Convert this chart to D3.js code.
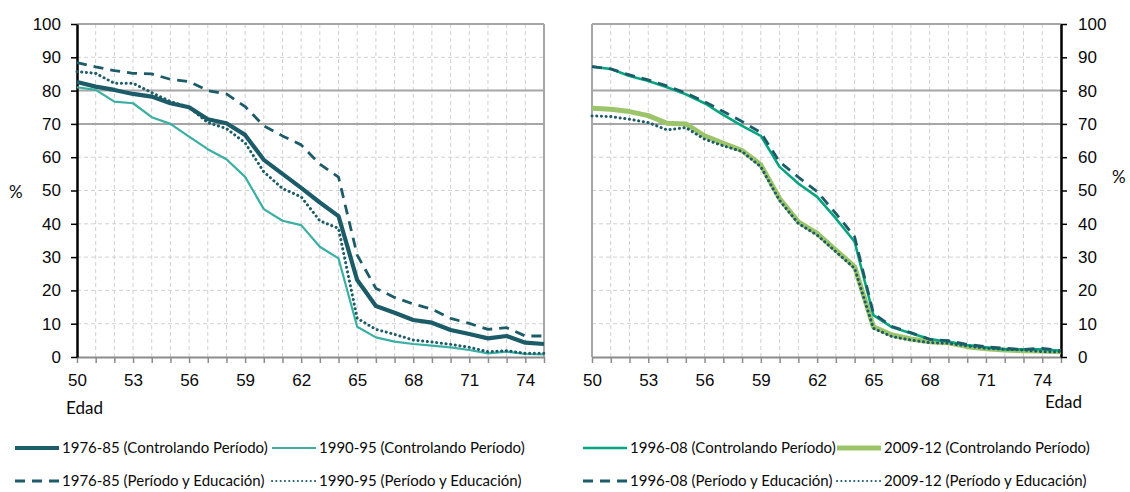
<!DOCTYPE html>
<html><head><meta charset="utf-8">
<script src="https://cdn.jsdelivr.net/npm/d3@7"></script>
<style>body{margin:0;background:#fff;}svg{display:block;font-family:Lato,"Open Sans",sans-serif;}</style>
</head><body><svg id="c" width="1130" height="492"></svg>
<script>
const ages = [50,51,52,53,54,55,56,57,58,59,60,61,62,63,64,65,66,67,68,69,70,71,72,73,74,75];
const xTicks = [50,53,56,59,62,65,68,71,74];
const yTicks = [0,10,20,30,40,50,60,70,80,90,100];
// Left panel
const ctrl7685 = [82.6,81.2,80.2,79.0,78.2,76.2,75.0,71.4,70.2,66.7,59.2,55.0,50.8,46.4,42.3,23.1,15.3,13.3,11.1,10.3,8.1,6.9,5.6,6.3,4.3,3.9];
const ctrl9095 = [81.0,80.2,76.7,76.2,72.0,70.0,66.2,62.4,59.4,54.1,44.4,40.9,39.6,33.1,29.6,9.1,5.9,4.6,3.9,3.4,2.9,2.1,1.1,1.6,0.9,0.8];
const edu7685 = [88.4,87.1,86.0,85.2,85.0,83.4,82.7,80.0,79.0,75.2,69.4,66.4,63.7,57.9,54.0,30.6,20.6,17.9,15.9,14.4,11.6,10.1,8.3,8.8,6.3,6.3];
const edu9095 = [85.7,85.2,82.2,82.2,79.4,76.7,75.0,70.4,68.6,64.3,55.6,50.6,48.1,40.9,38.6,11.6,8.3,6.8,5.1,4.5,3.8,2.9,1.6,1.9,1.1,1.1];
// Right panel
const ctrl9608 = [87.2,86.5,84.4,82.9,81.0,78.9,76.2,72.7,69.4,66.4,57.1,52.1,48.1,41.6,34.6,12.6,8.9,7.1,5.4,4.6,3.6,2.9,2.3,2.3,2.3,1.9];
const edu9608 = [87.2,86.5,84.7,83.2,81.4,79.3,76.7,73.7,70.7,67.4,58.6,54.0,49.7,43.1,36.1,13.1,9.1,7.3,5.3,4.9,3.8,3.1,2.6,2.3,2.6,1.9];
const ctrl0912 = [74.7,74.4,73.7,72.5,70.2,70.0,66.4,64.2,62.0,57.7,47.6,40.6,37.1,32.1,27.1,9.1,6.6,5.4,4.6,4.3,3.1,2.5,2.1,1.9,1.8,1.6];
const edu0912 = [72.4,72.2,71.4,70.4,68.2,68.9,65.4,63.4,61.7,57.1,47.0,40.1,36.6,31.6,26.6,8.6,6.1,5.1,4.3,4.1,3.3,2.6,2.3,2.1,1.6,1.6];

const DARK = "#1c5b68", TEAL = "#3aafa2", GREEN = "#07a57f", LGREEN = "#9cc46a";
const styles = {
  ctrl7685:{color:DARK,w:4.2,dash:null},
  ctrl9095:{color:TEAL,w:2.2,dash:null},
  edu7685:{color:DARK,w:2.8,dash:"10,7"},
  edu9095:{color:DARK,w:3,dash:"0.1,4.6",cap:"round"},
  ctrl9608:{color:GREEN,w:2.6,dash:null},
  ctrl0912:{color:LGREEN,w:5,dash:null},
  edu9608:{color:DARK,w:2.8,dash:"10,7"},
  edu0912:{color:DARK,w:3,dash:"0.1,4.6",cap:"round"}
};
const svg = d3.select("#c");
const plotTop = 24, plotBottom = 357;
const TXT = "#0a0a0a";

function panel(x0, x1, axisSide, series) {
  const x = d3.scaleLinear().domain([50,75]).range([x0,x1]);
  const y = d3.scaleLinear().domain([0,100]).range([plotBottom,plotTop]);
  const g = svg.append("g");
  g.selectAll(".vg").data(ages.slice(1)).join("line")
    .attr("x1",d=>x(d)).attr("x2",d=>x(d)).attr("y1",plotTop).attr("y2",plotBottom)
    .attr("stroke","#d0d0d0").attr("stroke-width",1).attr("stroke-dasharray","4,3");
  g.selectAll(".hg").data(yTicks.filter(t=>t>0&&t<100&&t!==70&&t!==80)).join("line")
    .attr("x1",x0).attr("x2",x1).attr("y1",d=>y(d)).attr("y2",d=>y(d))
    .attr("stroke","#d0d0d0").attr("stroke-width",1).attr("stroke-dasharray","4,3");
  g.selectAll(".hs").data([70,80,100]).join("line")
    .attr("x1",x0).attr("x2",x1).attr("y1",d=>y(d)).attr("y2",d=>y(d))
    .attr("stroke","#a6a6a6").attr("stroke-width",2);
  const fx = axisSide==="left" ? x1 : x0;
  g.append("line").attr("x1",fx).attr("x2",fx).attr("y1",plotTop).attr("y2",plotBottom)
    .attr("stroke","#a6a6a6").attr("stroke-width",2);
  const xa = g.append("g").attr("transform",`translate(0,${plotBottom})`)
    .call(d3.axisBottom(x).tickValues(ages).tickSize(6).tickSizeOuter(0).tickFormat(d=>xTicks.includes(d)?d:""));
  xa.select(".domain").attr("stroke","#8c8c8c").attr("stroke-width",2);
  xa.selectAll(".tick line").attr("stroke","#8c8c8c").attr("stroke-width",1.5);
  xa.selectAll("text").attr("font-size",17).attr("fill",TXT).attr("dy","1.2em");
  const ax = axisSide==="left" ? d3.axisLeft(y) : d3.axisRight(y);
  const ya = g.append("g").attr("transform",`translate(${axisSide==="left"?x0:x1},0)`)
    .call(ax.tickValues(yTicks).tickSize(6).tickSizeOuter(0).tickPadding(axisSide==="left"?10:11));
  ya.select(".domain").attr("stroke","#000").attr("stroke-width",2.5);
  ya.selectAll(".tick line").attr("stroke","#000").attr("stroke-width",1.5);
  ya.selectAll("text").attr("font-size",17).attr("fill",TXT);
  const line = d3.line().x((d,i)=>x(ages[i])).y(d=>y(d));
  series.forEach(([name,vals])=>{
    const s = styles[name];
    g.append("path").datum(vals).attr("d",line).attr("fill","none")
      .attr("stroke",s.color).attr("stroke-width",s.w)
      .attr("stroke-dasharray",s.dash).attr("stroke-linecap",s.cap||"butt")
      .attr("stroke-linejoin","round");
  });
}

panel(77,544,"left",[["ctrl9095",ctrl9095],["edu9095",edu9095],["edu7685",edu7685],["ctrl7685",ctrl7685]]);
panel(592,1061,"right",[["ctrl0912",ctrl0912],["ctrl9608",ctrl9608],["edu0912",edu0912],["edu9608",edu9608]]);

svg.append("text").attr("x",9).attr("y",198).attr("font-size",17).attr("fill",TXT).text("%");
svg.append("text").attr("x",1112).attr("y",183).attr("font-size",17).attr("fill",TXT).text("%");
svg.append("text").attr("x",66).attr("y",414).attr("font-size",17).attr("fill",TXT).text("Edad");
svg.append("text").attr("x",1045).attr("y",408).attr("font-size",17).attr("fill",TXT).text("Edad");

const legend = [
  {key:"ctrl7685",label:"1976-85 (Controlando Período)",x:15,y:448},
  {key:"ctrl9095",label:"1990-95 (Controlando Período)",x:272,y:448},
  {key:"ctrl9608",label:"1996-08 (Controlando Período)",x:583,y:448},
  {key:"ctrl0912",label:"2009-12 (Controlando Período)",x:837,y:448},
  {key:"edu7685",label:"1976-85 (Período y Educación)",x:15,y:481},
  {key:"edu9095",label:"1990-95 (Período y Educación)",x:272,y:481},
  {key:"edu9608",label:"1996-08 (Período y Educación)",x:583,y:481},
  {key:"edu0912",label:"2009-12 (Período y Educación)",x:837,y:481}
];
const lg = svg.append("g");
legend.forEach(d=>{
  const s = styles[d.key];
  lg.append("line").attr("x1",d.x).attr("x2",d.x+44).attr("y1",d.y).attr("y2",d.y)
    .attr("stroke",s.color).attr("stroke-width",s.cap?2:s.w)
    .attr("stroke-dasharray",s.dash?(s.cap?"0.1,4.2":"10,7"):null)
    .attr("stroke-linecap",s.cap||"butt");
  lg.append("text").attr("x",d.x+47).attr("y",d.y+5).attr("font-size",15).attr("fill",TXT).text(d.label);
});
</script></body></html>
